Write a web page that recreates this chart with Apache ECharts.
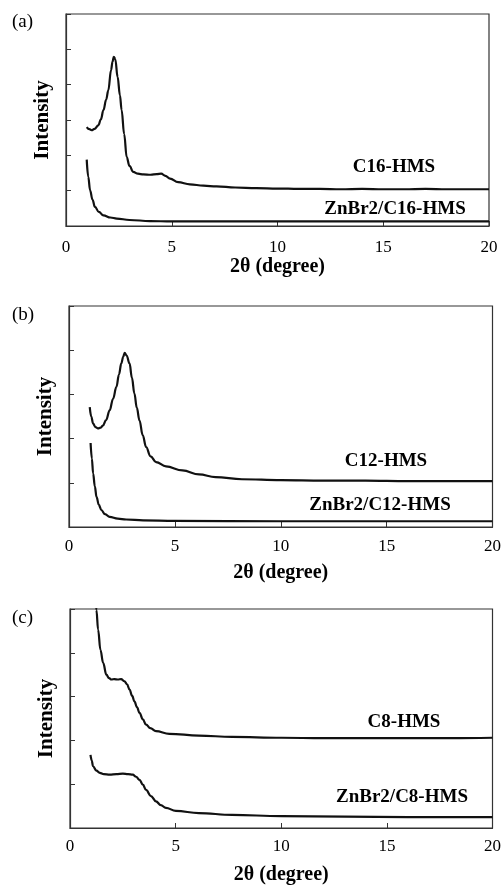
<!DOCTYPE html>
<html>
<head>
<meta charset="utf-8">
<script src="https://cdn.jsdelivr.net/npm/echarts@6/dist/echarts.min.js"></script>
<style>
  html, body { margin: 0; padding: 0; background: #fff; }
  #chart { width: 504px; height: 886px; }
</style>
</head>
<body>
<div id="chart"></div>
<script>
// x tick labels (2θ, degree)
const xTicks = [0, 5, 10, 15, 20]

// (a) C16 samples, [2θ, intensity]
const c16 = [[0.98, 2.8], [1.1, 2.74], [1.21, 2.71], [1.35, 2.75], [1.53, 2.85], [1.65, 3.02], [1.77, 3.28],
  [1.9, 3.58], [2.0, 3.84], [2.13, 4.41], [2.2, 4.65], [2.26, 4.79], [2.33, 4.72], [2.44, 4.22], [2.55, 3.7],
  [2.63, 3.28], [2.75, 2.6], [2.87, 1.95], [3.0, 1.7], [3.18, 1.53], [3.4, 1.48], [3.66, 1.46], [4.0, 1.45],
  [4.3, 1.47], [4.5, 1.48], [4.7, 1.42], [4.92, 1.34], [5.3, 1.24], [5.86, 1.18], [6.5, 1.14], [7.12, 1.12],
  [8, 1.09], [9, 1.07], [10, 1.06], [11, 1.05], [12, 1.05], [13, 1.04], [14, 1.05], [15, 1.04], [16, 1.04],
  [17, 1.05], [18, 1.04], [19, 1.04], [20, 1.04]]
const znC16 = [[0.98, 1.88], [1.05, 1.4], [1.14, 1.01], [1.25, 0.75], [1.37, 0.54], [1.55, 0.4], [1.77, 0.3],
  [2.1, 0.24], [2.4, 0.21], [3, 0.17], [3.97, 0.14], [5, 0.13], [8, 0.13], [12, 0.13], [16, 0.13], [20, 0.13]]

// (b) C12 samples
const c12 = [[0.98, 2.71], [1.05, 2.5], [1.14, 2.34], [1.25, 2.26], [1.37, 2.23], [1.5, 2.25], [1.61, 2.3],
  [1.75, 2.42], [1.92, 2.64], [2.08, 2.9], [2.24, 3.17], [2.36, 3.45], [2.47, 3.7], [2.56, 3.85], [2.63, 3.94],
  [2.72, 3.88], [2.86, 3.7], [2.97, 3.38], [3.09, 3.02], [3.2, 2.7], [3.33, 2.41], [3.48, 2.08], [3.64, 1.81],
  [3.85, 1.6], [4.11, 1.47], [4.58, 1.37], [5.36, 1.28], [6.14, 1.19], [6.92, 1.13], [8.17, 1.08], [10, 1.06],
  [12, 1.05], [14, 1.05], [16, 1.04], [18, 1.04], [20, 1.04]]
const znC12 = [[1.02, 1.9], [1.08, 1.55], [1.14, 1.21], [1.22, 0.92], [1.3, 0.68], [1.41, 0.5], [1.53, 0.38],
  [1.7, 0.29], [1.92, 0.23], [2.3, 0.19], [2.7, 0.17], [3.5, 0.15], [5, 0.14], [10, 0.13], [15, 0.13], [20, 0.13]]

// (c) C8 samples
const c8 = [[1.2, 5.3], [1.25, 4.98], [1.33, 4.53], [1.44, 4.07], [1.57, 3.77], [1.72, 3.5], [1.85, 3.42],
  [1.96, 3.39], [2.1, 3.4], [2.27, 3.39], [2.42, 3.4], [2.58, 3.35], [2.7, 3.28], [2.82, 3.16], [2.94, 3.02],
  [3.05, 2.89], [3.17, 2.76], [3.29, 2.63], [3.45, 2.48], [3.6, 2.36], [3.8, 2.28], [4.07, 2.21], [4.7, 2.15],
  [6.1, 2.11], [7.67, 2.08], [10, 2.06], [12, 2.05], [14, 2.05], [16, 2.05], [18, 2.05], [20, 2.06]]
const znC8 = [[0.97, 1.67], [1.03, 1.54], [1.09, 1.41], [1.25, 1.31], [1.41, 1.26], [1.6, 1.23], [1.88, 1.22],
  [2.2, 1.23], [2.5, 1.24], [2.75, 1.23], [2.97, 1.22], [3.13, 1.17], [3.29, 1.1], [3.45, 0.99], [3.6, 0.87],
  [3.83, 0.73], [4.07, 0.61], [4.3, 0.52], [4.54, 0.46], [5.01, 0.39], [6.1, 0.34], [7.67, 0.3], [10, 0.27],
  [13, 0.26], [16, 0.25], [20, 0.25]]

const FONT = 'Liberation Serif'
const AXIS_COLOR = '#333'

const grids = [
  { left: 66, right: 15, top: 14, height: 212 },
  { left: 69, right: 8, top: 306, height: 221 },
  { left: 70, right: 8, top: 609, height: 219 }
]
const yMax = [6, 5, 5]
const labelMargin = [13, 11, 10]
const nameGaps = [31, 36, 37]

function xAxisFor (i) {
  return {
    gridIndex: i,
    type: 'value',
    min: xTicks[0],
    max: xTicks[xTicks.length - 1],
    interval: 5,
    name: '2θ (degree)',
    nameLocation: 'middle',
    nameGap: nameGaps[i],
    nameTextStyle: { fontFamily: FONT, fontWeight: 'bold', fontSize: 20, color: '#000' },
    axisLine: { show: true, lineStyle: { color: AXIS_COLOR, width: 1.2 } },
    axisTick: { show: true, inside: true, length: 5, lineStyle: { color: AXIS_COLOR } },
    axisLabel: { fontFamily: FONT, fontSize: 17, color: '#000', margin: labelMargin[i] },
    splitLine: { show: false }
  }
}

function yAxisFor (i) {
  return {
    gridIndex: i,
    type: 'value',
    min: 0,
    max: yMax[i],
    interval: 1,
    name: 'Intensity',
    nameLocation: 'middle',
    nameGap: 13,
    nameTextStyle: { fontFamily: FONT, fontWeight: 'bold', fontSize: 21, color: '#000' },
    axisLine: { show: true, lineStyle: { color: AXIS_COLOR, width: 1.2 } },
    axisTick: { show: true, inside: true, length: 5, lineStyle: { color: AXIS_COLOR } },
    axisLabel: { show: false },
    splitLine: { show: false }
  }
}

function lineSeries (data, i) {
  return {
    type: 'line',
    xAxisIndex: i,
    yAxisIndex: i,
    data: data,
    showSymbol: false,
    symbol: 'none',
    smooth: 0.4,
    smoothMonotone: 'x',
    clip: true,
    lineStyle: { color: '#111', width: 2.2 },
    animation: false
  }
}

function panelText (text, x, y, bold) {
  return {
    type: 'text',
    x: x,
    y: y,
    style: {
      text: text,
      fill: '#000',
      font: (bold ? 'bold 19px ' : '19px ') + FONT,
      align: bold ? 'center' : 'left',
      verticalAlign: 'middle'
    }
  }
}

const chart = echarts.init(document.getElementById('chart'))
chart.setOption({
  animation: false,
  grid: grids.map(g => Object.assign({ show: true, borderColor: AXIS_COLOR, borderWidth: 1.2, backgroundColor: 'transparent' }, g)),
  xAxis: [0, 1, 2].map(xAxisFor),
  yAxis: [0, 1, 2].map(yAxisFor),
  series: [
    lineSeries(c16, 0), lineSeries(znC16, 0),
    lineSeries(c12, 1), lineSeries(znC12, 1),
    lineSeries(c8, 2), lineSeries(znC8, 2)
  ],
  graphic: [
    panelText('(a)', 12, 22, false),
    panelText('(b)', 12, 315, false),
    panelText('(c)', 12, 618, false),
    panelText('C16-HMS', 394, 167, true),
    panelText('ZnBr2/C16-HMS', 395, 209, true),
    panelText('C12-HMS', 386, 461, true),
    panelText('ZnBr2/C12-HMS', 380, 505, true),
    panelText('C8-HMS', 404, 722, true),
    panelText('ZnBr2/C8-HMS', 402, 797, true)
  ]
})
</script>
</body>
</html>
